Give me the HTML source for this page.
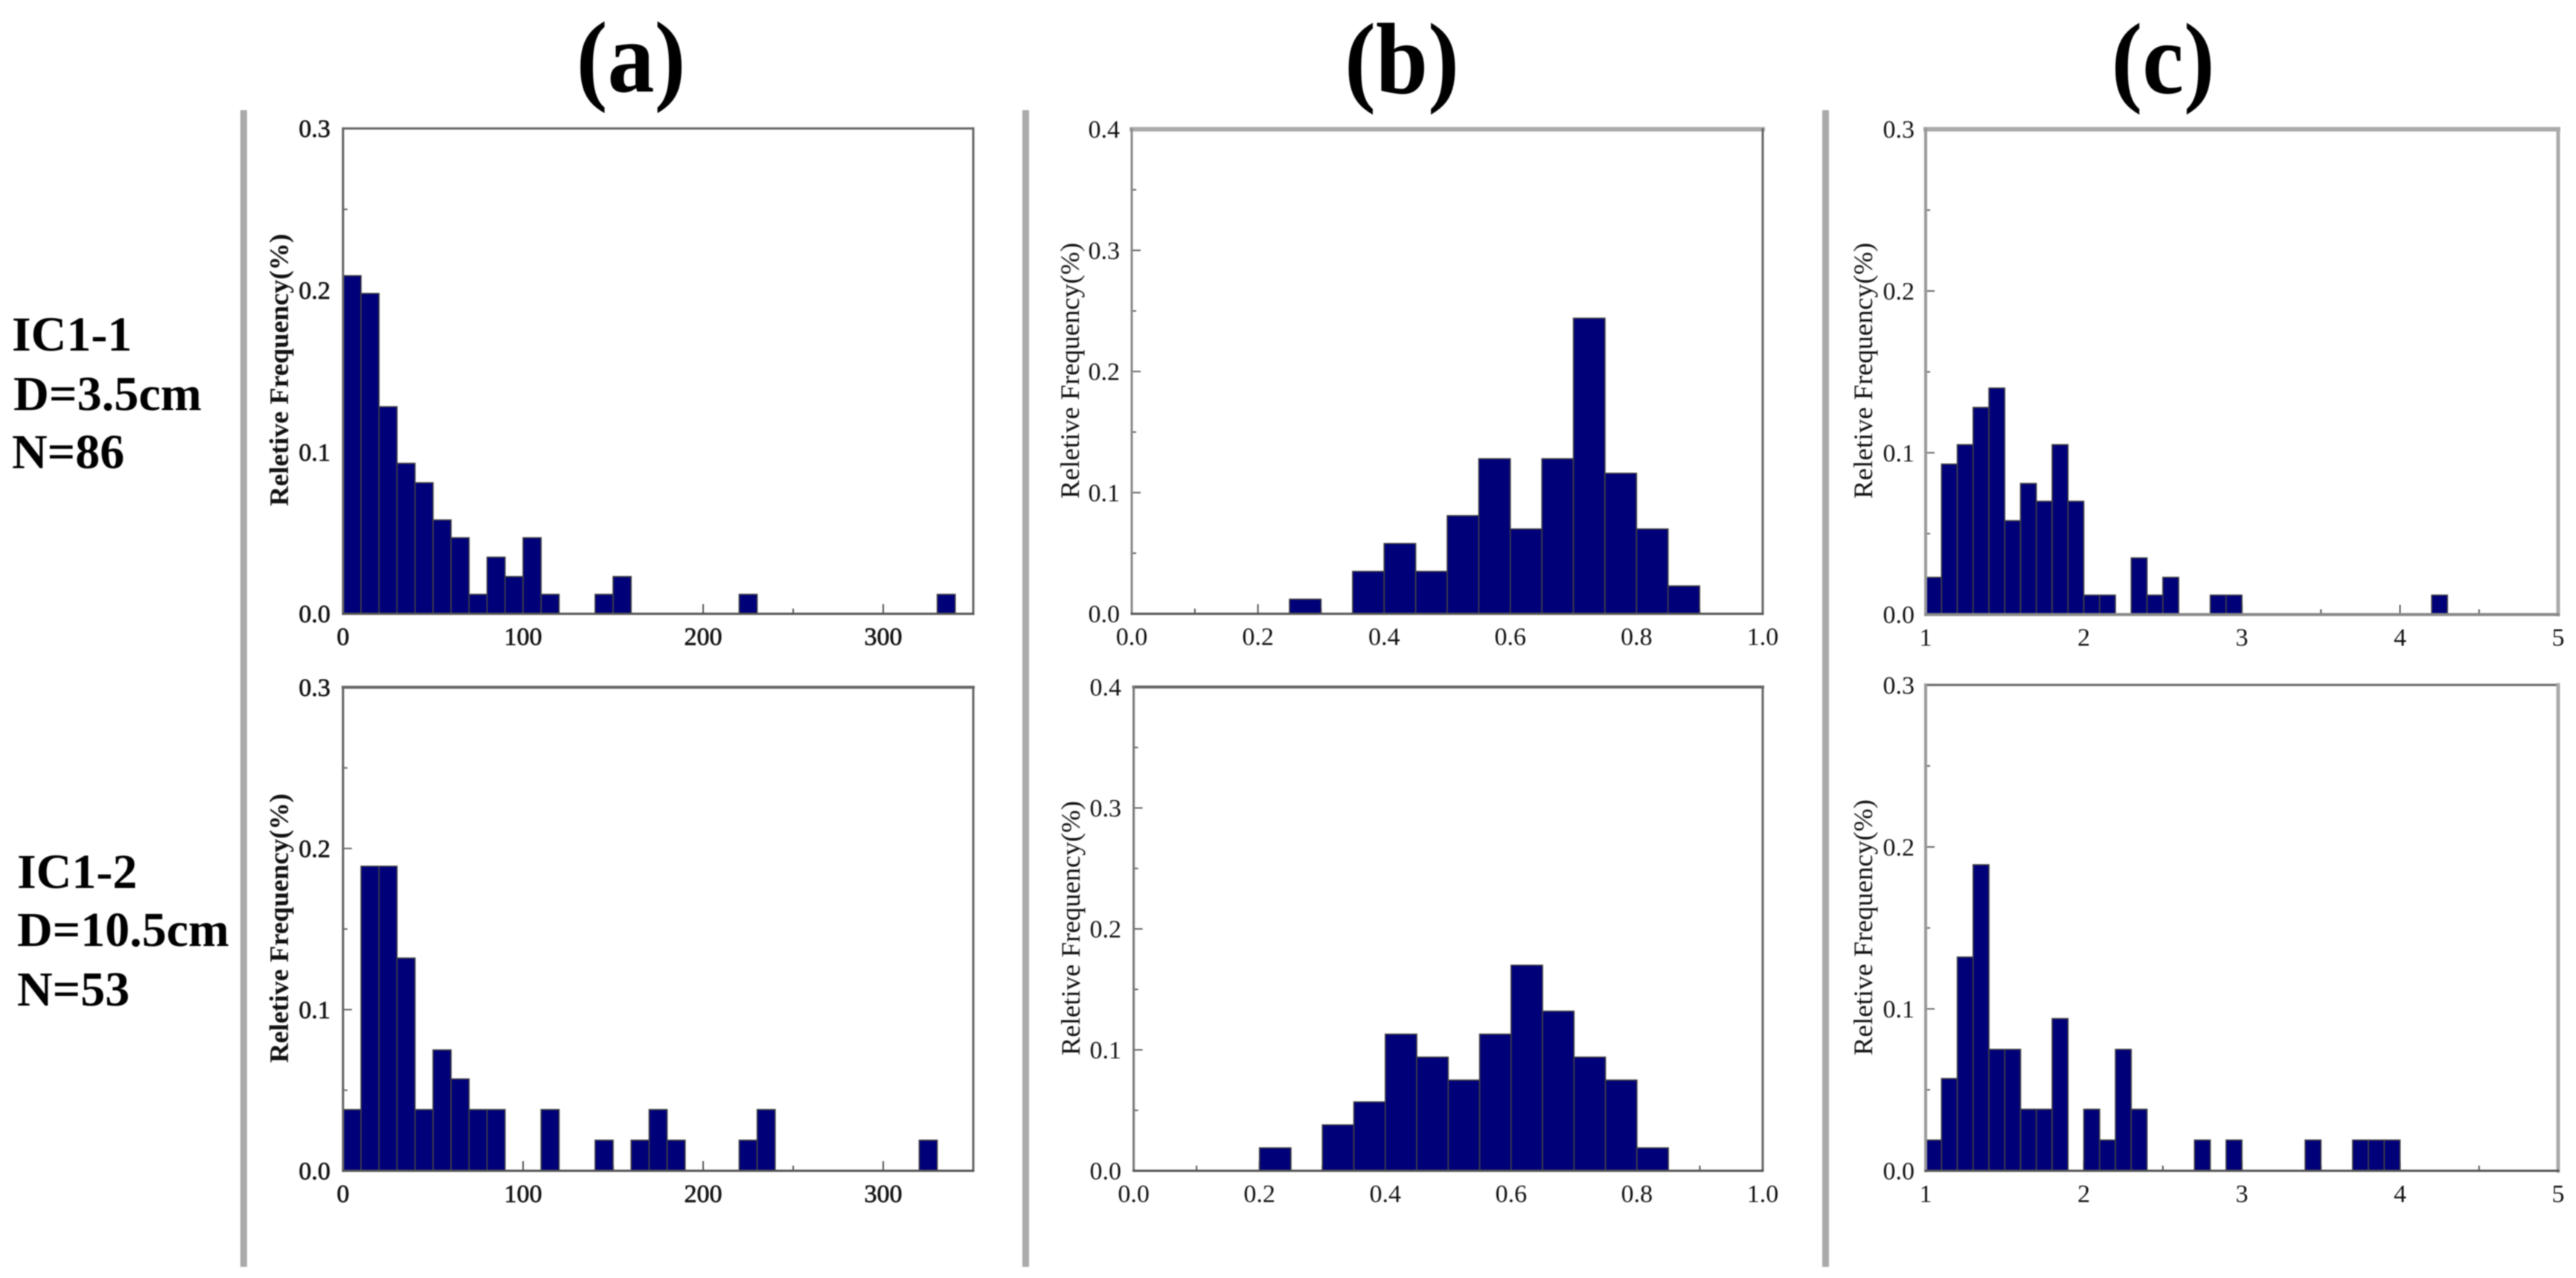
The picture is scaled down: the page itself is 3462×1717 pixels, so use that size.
<!DOCTYPE html>
<html lang="en">
<head>
<meta charset="utf-8">
<title>Relative frequency histograms</title>
<style>
html,body{margin:0;padding:0;background:#fff;width:3462px;height:1717px;overflow:hidden}
svg{display:block;position:absolute;left:0;top:0;filter:blur(0.7px)}
text{font-family:"Liberation Serif",serif;fill:#111}
</style>
</head>
<body>
<svg id="figure" xmlns="http://www.w3.org/2000/svg" width="3462" height="1717" viewBox="0 0 3462 1717">
  <rect x="0" y="0" width="3462" height="1717" fill="#fff"/>
  <rect x="323" y="148" width="9" height="1554" fill="#aaa"/>
  <rect x="1374" y="148" width="9" height="1554" fill="#aaa"/>
  <rect x="2449" y="148" width="9" height="1554" fill="#aaa"/>
  <text x="848" y="123" font-size="136" font-weight="bold" text-anchor="middle" textLength="147" lengthAdjust="spacingAndGlyphs" style="fill:#000">(a)</text>
  <text x="1884" y="125" font-size="136" font-weight="bold" text-anchor="middle" textLength="154" lengthAdjust="spacingAndGlyphs" style="fill:#000">(b)</text>
  <text x="2907" y="125" font-size="136" font-weight="bold" text-anchor="middle" textLength="139" lengthAdjust="spacingAndGlyphs" style="fill:#000">(c)</text>
  <g font-size="66" font-weight="bold">
    <text x="16" y="471" style="fill:#000">IC1-1</text>
    <text x="18" y="551" style="fill:#000" textLength="253" lengthAdjust="spacingAndGlyphs">D=3.5cm</text>
    <text x="16" y="629" style="fill:#000">N=86</text>
  </g>
  <g font-size="66" font-weight="bold">
    <text x="23" y="1193" style="fill:#000">IC1-2</text>
    <text x="23" y="1271" style="fill:#000" textLength="285" lengthAdjust="spacingAndGlyphs">D=10.5cm</text>
    <text x="23" y="1351" style="fill:#000">N=53</text>
  </g>
</svg>
<script>
// Histogram data: bin starts and relative frequencies
const binsA1 = [0,10,20,30,40,50,60,70,80,90,100,110,140,150,220,330];
const freqA1 = [0.209,0.198,0.128,0.093,0.081,0.058,0.047,0.012,0.035,0.023,0.047,0.012,0.012,0.023,0.012,0.012];
const binsA2 = [0,10,20,30,40,50,60,70,80,110,140,160,170,180,220,230,320];
const freqA2 = [0.038,0.189,0.189,0.132,0.038,0.075,0.057,0.038,0.038,0.038,0.019,0.019,0.038,0.019,0.019,0.038,0.019];
const binsB1 = [0.25,0.35,0.40,0.45,0.50,0.55,0.60,0.65,0.70,0.75,0.80,0.85];
const freqB1 = [0.012,0.035,0.058,0.035,0.081,0.128,0.070,0.128,0.244,0.116,0.070,0.023];
const binsB2 = [0.20,0.30,0.35,0.40,0.45,0.50,0.55,0.60,0.65,0.70,0.75,0.80];
const freqB2 = [0.019,0.038,0.057,0.113,0.094,0.075,0.113,0.170,0.132,0.094,0.075,0.019];
const binsC1 = [1.0,1.1,1.2,1.3,1.4,1.5,1.6,1.7,1.8,1.9,2.0,2.1,2.3,2.4,2.5,2.8,2.9,4.2];
const freqC1 = [0.023,0.093,0.105,0.128,0.140,0.058,0.081,0.070,0.105,0.070,0.012,0.012,0.035,0.012,0.023,0.012,0.012,0.012];
const binsC2 = [1.0,1.1,1.2,1.3,1.4,1.5,1.6,1.7,1.8,2.0,2.1,2.2,2.3,2.7,2.9,3.4,3.7,3.8,3.9];
const freqC2 = [0.019,0.057,0.132,0.189,0.075,0.075,0.038,0.038,0.094,0.038,0.019,0.075,0.038,0.019,0.019,0.019,0.019,0.019,0.019];

const xTickLabelsA = ['0','100','200','300'];
const xTickLabelsB = ['0.0','0.2','0.4','0.6','0.8','1.0'];
const xTickLabelsC = ['1','2','3','4','5'];
const yTickLabels03 = ['0.0','0.1','0.2','0.3'];
const yTickLabels04 = ['0.0','0.1','0.2','0.3','0.4'];
const yAxisTitle = 'Reletive Frequency(%)';

const NS = 'http://www.w3.org/2000/svg';
const svg = document.getElementById('figure');

function make(tag, parent, props) {
  const el = document.createElementNS(NS, tag);
  for (const k in props) el.setAttribute(k, props[k]);
  parent.appendChild(el);
  return el;
}

const panels = [
 {id:'a1',bins:binsA1,freq:freqA1,w:10,xMin:0,xMax:350,yMax:0.3,xl:xTickLabelsA,yl:yTickLabels03,minorX:50,
  L:461,R:1308,T:172.6,B:824.6,labelX:444,bold:true,titleX:387,titleY:497,titleLen:366,
  top:['#666',3],right:['#666',3],left:['#666',3],bottom:['#555',3]},
 {id:'a2',bins:binsA2,freq:freqA2,w:10,xMin:0,xMax:350,yMax:0.3,xl:xTickLabelsA,yl:yTickLabels03,minorX:50,
  L:461,R:1308,T:923.4,B:1573,labelX:444,bold:true,titleX:387,titleY:1247,titleLen:362,
  top:['#666',4],right:['#666',3],left:['#666',3],bottom:['#555',3]},
 {id:'b1',bins:binsB1,freq:freqB1,w:0.05,xMin:0,xMax:1,yMax:0.4,xl:xTickLabelsB,yl:yTickLabels04,minorX:0.1,
  L:1521,R:2369,T:173.6,B:824.6,labelX:1505,bold:false,titleX:1450,titleY:498,titleLen:344,
  top:['#aaa',6],right:['#666',3],left:['#888',3],bottom:['#555',3]},
 {id:'b2',bins:binsB2,freq:freqB2,w:0.05,xMin:0,xMax:1,yMax:0.4,xl:xTickLabelsB,yl:yTickLabels04,minorX:0.1,
  L:1523.6,R:2369,T:923,B:1573,labelX:1507,bold:false,titleX:1451,titleY:1247,titleLen:342,
  top:['#666',4],right:['#666',3],left:['#777',3],bottom:['#555',3]},
 {id:'c1',bins:binsC1,freq:freqC1,w:0.1,xMin:1,xMax:5,yMax:0.3,xl:xTickLabelsC,yl:yTickLabels03,minorX:0.5,
  L:2588,R:3438,T:173.6,B:825.6,labelX:2573,bold:false,titleX:2516,titleY:498,titleLen:344,
  top:['#aaa',6],right:['#aaa',5],left:['#999',4],bottom:['#888',4]},
 {id:'c2',bins:binsC2,freq:freqC2,w:0.1,xMin:1,xMax:5,yMax:0.3,xl:xTickLabelsC,yl:yTickLabels03,minorX:0.5,
  L:2588,R:3438,T:920.3,B:1573,labelX:2573,bold:false,titleX:2516,titleY:1246,titleLen:344,
  top:['#666',3],right:['#aaa',5],left:['#999',4],bottom:['#555',3]}
];

panels.forEach(function (p) {
  const xPos = function (v) { return p.L + (v - p.xMin) / (p.xMax - p.xMin) * (p.R - p.L); };
  const yPos = function (v) { return p.B - v / p.yMax * (p.B - p.T); };

  const g = make('g', svg, {});
  
  

  // x ticks: major at each label, minor halfway
  p.xl.forEach(function (s) {
    const v = parseFloat(s);
    const x = xPos(v);
    const t = make('line', g, {x1:x, x2:x, y1:p.B, y2:p.B - 13, stroke:'#555', 'stroke-width':2});
    
    
    const lab = make('text', g, {x:x, y:p.B + 42, 'font-size':34, 'text-anchor':'middle'});
    lab.textContent = s;
    
    
    if (p.bold) { lab.setAttribute('stroke', '#111'); lab.setAttribute('stroke-width', '0.7'); }
    const mv = v + p.minorX;
    if (mv < p.xMax + 1e-9) {
      const mx = xPos(mv);
      const m = make('line', g, {x1:mx, x2:mx, y1:p.B, y2:p.B - 7, stroke:'#555', 'stroke-width':2});
      
      
    }
  });

  // y ticks
  p.yl.forEach(function (s) {
    const v = parseFloat(s);
    const y = yPos(v);
    const t = make('line', g, {x1:p.L, x2:p.L + 12, y1:y, y2:y, stroke:'#666', 'stroke-width':2});
    
    
    const lab = make('text', g, {x:p.labelX, y:y + 11.5, 'font-size':34, 'text-anchor':'end'});
    lab.textContent = s;
    
    
    if (p.bold) { lab.setAttribute('stroke', '#111'); lab.setAttribute('stroke-width', '0.7'); }
    const mv = v + 0.05;
    if (mv < p.yMax) {
      const my = yPos(mv);
      const m = make('line', g, {x1:p.L, x2:p.L + 6, y1:my, y2:my, stroke:'#666', 'stroke-width':2});
      
      
    }
  });

  // bars
  p.bins.forEach(function (b, i) {
    const x0 = xPos(b);
    const x1 = xPos(b + p.w);
    const y = yPos(p.freq[i]);
    const bar = make('rect', g, {x:x0, y:y, width:x1 - x0, height:p.B - y, fill:'#000078', stroke:'#444', 'stroke-width':1.6});
    
    
  });

  // frame sides
  [['top',p.L,p.T,p.R,p.T],['right',p.R,p.T,p.R,p.B],['left',p.L,p.T,p.L,p.B],['bottom',p.L,p.B,p.R,p.B]].forEach(function (s) {
    const st = p[s[0]];
    const ln = make('line', g, {x1:s[1], y1:s[2], x2:s[3], y2:s[4], stroke:st[0], 'stroke-width':st[1], 'stroke-linecap':'square'});
    
    
  });

  // y axis title
  const title = make('text', g, {
    transform:'translate(' + p.titleX + ',' + p.titleY + ') rotate(-90)',
    'font-size':36, 'text-anchor':'middle', textLength:p.titleLen, lengthAdjust:'spacingAndGlyphs',
    'font-weight':p.bold ? 'bold' : 'normal'
  });
  title.textContent = yAxisTitle;
  
  
});
</script>
</body>
</html>
